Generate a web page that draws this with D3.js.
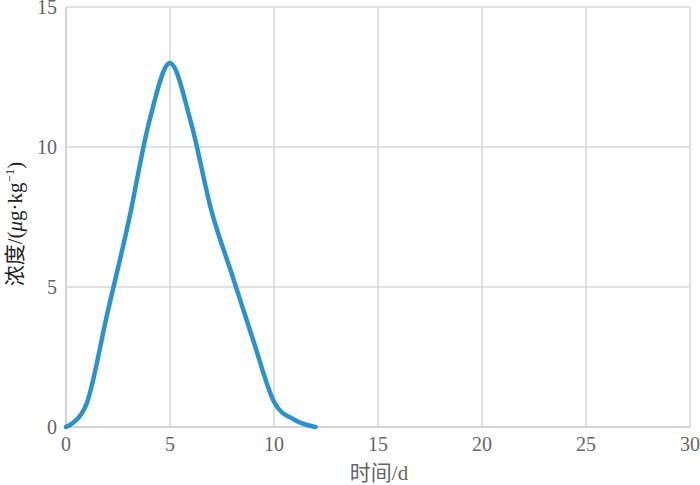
<!DOCTYPE html>
<html>
<head>
<meta charset="utf-8">
<script src="https://cdn.jsdelivr.net/npm/d3@7"></script>
<style>
  body { margin: 0; background: #fff; }
  text { font-family: "Liberation Serif", "Noto Sans CJK SC", serif; }
</style>
</head>
<body>
<div id="chart"></div>
<script>
// data
let days = [0, 1, 2, 3, 4, 5, 6, 7, 8, 9, 10, 11, 12];
let conc = [0, 0.85, 4.1, 7.3, 10.9, 13.0, 10.9, 7.7, 5.4, 3.1, 0.9, 0.25, 0];
let xTicks = [0, 5, 10, 15, 20, 25, 30];
let yTicks = [0, 5, 10, 15];

let width = 700;
let height = 485;
let margin = {left: 66, right: 10, top: 7, bottom: 58};

let svg = d3.select('#chart')
  .append('svg')
  .attr('width', width)
  .attr('height', height);

let x = d3.scaleLinear().domain([0, 30]).range([margin.left, 690]);
let y = d3.scaleLinear().domain([0, 15]).range([427, margin.top]);

// grid lines
svg.append('g')
  .selectAll('line')
  .data(xTicks)
  .enter()
  .append('line')
  .attr('x1', d => x(d)).attr('x2', d => x(d))
  .attr('y1', y(0)).attr('y2', y(15))
  .attr('stroke', d => d === 0 ? '#d4d4d4' : '#e0e0e0')
  .attr('stroke-width', 2);

svg.append('g')
  .selectAll('line')
  .data(yTicks)
  .enter()
  .append('line')
  .attr('x1', x(0)).attr('x2', x(30))
  .attr('y1', d => y(d)).attr('y2', d => y(d))
  .attr('stroke', d => d === 0 ? '#d4d4d4' : '#e0e0e0')
  .attr('stroke-width', 2);

// tick labels
svg.append('g')
  .selectAll('text')
  .data(xTicks)
  .enter()
  .append('text')
  .attr('x', d => x(d))
  .attr('y', 451)
  .attr('text-anchor', 'middle')
  .attr('fill', '#666')
  .style('font-size', '20px')
  .text(d => d);

svg.append('g')
  .selectAll('text')
  .data(yTicks)
  .enter()
  .append('text')
  .attr('x', 57)
  .attr('y', d => y(d) + 7)
  .attr('text-anchor', 'end')
  .attr('fill', '#666')
  .style('font-size', '20px')
  .text(d => d);

// axis titles
svg.append('text')
  .attr('x', 379)
  .attr('y', 480)
  .attr('text-anchor', 'middle')
  .attr('fill', '#666')
  .style('font-size', '21px')
  .text('时间/d');

let yTitle = svg.append('text')
  .attr('transform', 'translate(22,224) rotate(-90)')
  .attr('text-anchor', 'middle')
  .attr('fill', '#222')
  .style('font-size', '21px');
yTitle.append('tspan').text('浓度/(');
yTitle.append('tspan').style('font-style', 'italic').text('μ');
yTitle.append('tspan').text('g·kg');
yTitle.append('tspan').attr('dy', -8).style('font-size', '13px').text('−1');
yTitle.append('tspan').attr('dy', 8).text(')');

// the curve (smoothed like a spreadsheet line)
let line = d3.line()
  .x((d, i) => x(days[i]))
  .y(d => y(d))
  .curve(d3.curveCardinal.tension(0));

svg.append('path')
  .datum(conc)
  .attr('d', line)
  .attr('fill', 'none')
  .attr('stroke', '#2a92d0')
  .attr('stroke-width', 4.5)
  .attr('stroke-linecap', 'round');
</script>
</body>
</html>
